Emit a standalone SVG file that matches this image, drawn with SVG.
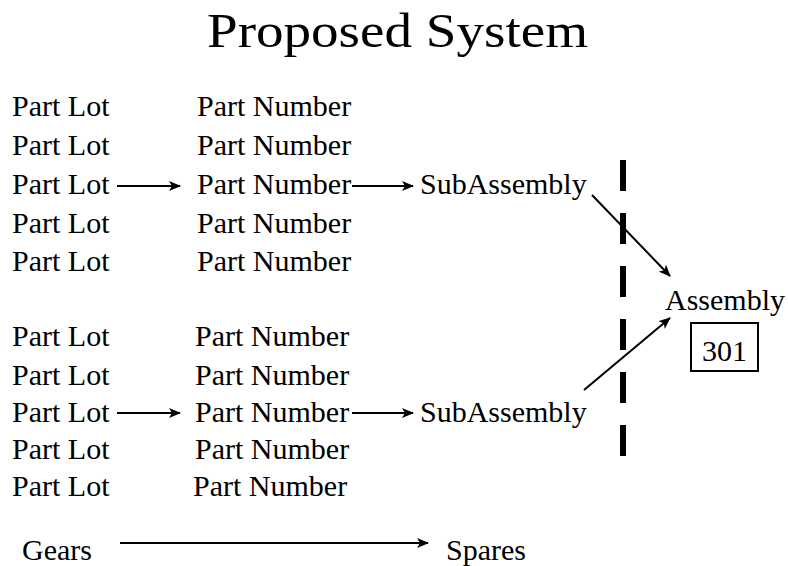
<svg xmlns="http://www.w3.org/2000/svg" width="788" height="566" viewBox="0 0 788 566" font-family="'Liberation Serif', 'Times New Roman', 'DejaVu Serif', serif">
<defs>
<marker id="ah" viewBox="0 0 12 10" refX="11" refY="5" markerWidth="12" markerHeight="10" markerUnits="userSpaceOnUse" orient="auto">
<path d="M0,0 L12,5 L0,10 L3,5 Z" fill="#000"/>
</marker>
<style>
text{font-family:'Liberation Serif','Times New Roman',serif;fill:#000}
.t{font-size:48px}
.r{font-size:30px}
.c{stroke:#000;stroke-width:2;fill:none;marker-end:url(#ah)}
.d{stroke:#000;stroke-width:6;stroke-dasharray:31 22}
</style>
</defs>
<rect width="788" height="566" fill="#fff"/>
<text class="t" x="207" y="47" textLength="381" lengthAdjust="spacingAndGlyphs">Proposed System</text>
<g id="lots1">
<text class="r" x="12" y="116">Part Lot</text>
<text class="r" x="12" y="155">Part Lot</text>
<text class="r" x="12" y="194">Part Lot</text>
<text class="r" x="12" y="233">Part Lot</text>
<text class="r" x="12" y="271">Part Lot</text>
</g>
<g id="parts1">
<text class="r" x="197" y="116">Part Number</text>
<text class="r" x="197" y="155">Part Number</text>
<text class="r" x="197" y="194">Part Number</text>
<text class="r" x="197" y="233">Part Number</text>
<text class="r" x="197" y="271">Part Number</text>
</g>
<g id="lots2">
<text class="r" x="12" y="346">Part Lot</text>
<text class="r" x="12" y="385">Part Lot</text>
<text class="r" x="12" y="422">Part Lot</text>
<text class="r" x="12" y="459">Part Lot</text>
<text class="r" x="12" y="496">Part Lot</text>
</g>
<g id="parts2">
<text class="r" x="195" y="346">Part Number</text>
<text class="r" x="195" y="385">Part Number</text>
<text class="r" x="195" y="422">Part Number</text>
<text class="r" x="195" y="459">Part Number</text>
<text class="r" x="193" y="496">Part Number</text>
</g>
<g id="sub1"><text class="r" x="420" y="194">SubAssembly</text></g>
<g id="sub2"><text class="r" x="420" y="422">SubAssembly</text></g>
<g id="assembly">
<text class="r" x="665" y="310">Assembly</text>
<rect x="691" y="323" width="67" height="48" fill="none" stroke="#000" stroke-width="2"/>
<text class="r" x="724.5" y="361" text-anchor="middle" font-size="31">301</text>
</g>
<g id="gears"><text class="r" x="22" y="560">Gears</text></g>
<g id="spares"><text class="r" x="446" y="560">Spares</text></g>
<g id="connectors">
<line class="d" x1="623" y1="160" x2="623" y2="458"/>
<line class="c" x1="117" y1="186" x2="180" y2="186"/>
<line class="c" x1="352" y1="186" x2="413" y2="186"/>
<line class="c" x1="117" y1="413" x2="180" y2="413"/>
<line class="c" x1="352" y1="413" x2="413" y2="413"/>
<line class="c" x1="592" y1="195" x2="670" y2="276"/>
<line class="c" x1="584" y1="390" x2="670" y2="318"/>
<line class="c" x1="120" y1="543" x2="428" y2="543"/>
</g>
</svg>
